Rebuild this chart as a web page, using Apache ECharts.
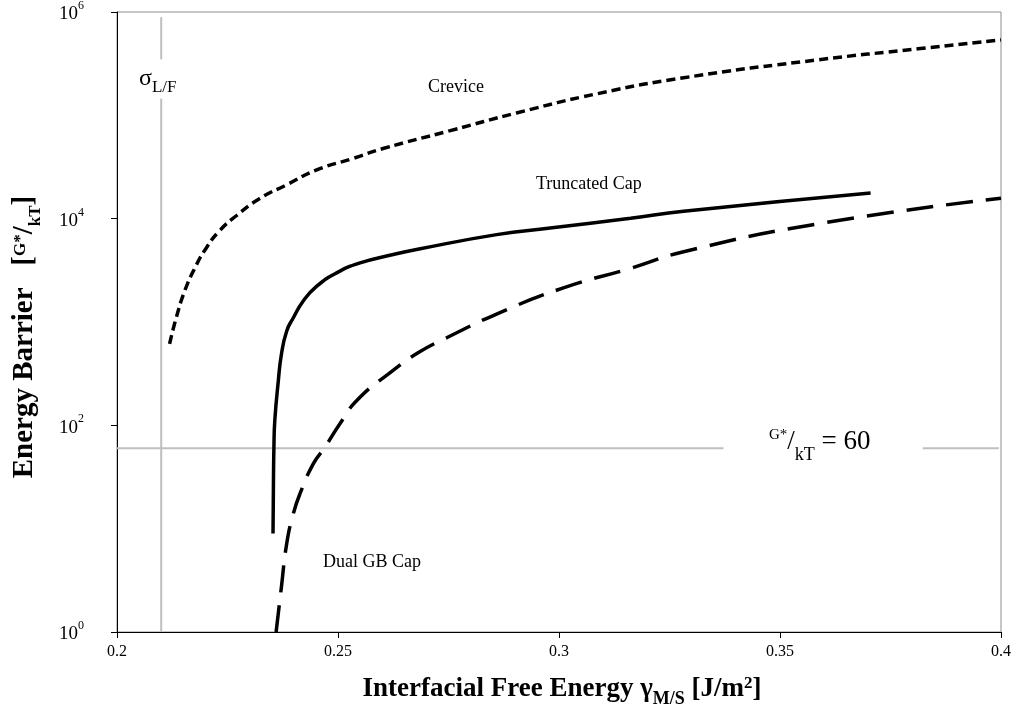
<!DOCTYPE html>
<html>
<head>
<meta charset="utf-8">
<script src="https://cdn.jsdelivr.net/npm/echarts@6/dist/echarts.min.js"></script>
<style>
html,body{margin:0;padding:0;background:#fff;}
#chart{width:1014px;height:706px;}
</style>
</head>
<body>
<div id="chart"></div>
<script>
// ---- data ----
var creviceX = [0.2119, 0.2134, 0.2153, 0.2176, 0.2202, 0.2232, 0.2270, 0.2323, 0.2384, 0.2452, 0.2535, 0.2602, 0.2754, 0.2906, 0.3087, 0.3282, 0.3585, 0.3812, 0.4];
var creviceY = [614, 1100, 1990, 3320, 5210, 7640, 10670, 15700, 21300, 29700, 38400, 47700, 71100, 106000, 162000, 231000, 344000, 440000, 537000];

var truncX = [0.2353, 0.2354, 0.2355, 0.2357, 0.2365, 0.2372, 0.2384, 0.2399, 0.2421, 0.2452, 0.2497, 0.2550, 0.2625, 0.2686, 0.2859, 0.2980, 0.3162, 0.3282, 0.3705];
var truncY = [9.0, 29.3, 61, 111, 270, 488, 819, 1100, 1590, 2220, 2990, 3730, 4500, 5120, 7010, 8120, 10100, 11800, 17700];

var dualX = [0.2360, 0.2372, 0.2384, 0.2399, 0.2414, 0.2444, 0.2470, 0.2504, 0.2542, 0.2618, 0.2682, 0.2747, 0.2860, 0.3010, 0.3162, 0.3282, 0.3585, 0.4];
var dualY = [1, 2.73, 7.2, 14, 21.8, 42.4, 61, 103, 173, 324, 506, 708, 1200, 2140, 3310, 4790, 8910, 15800];

// reference lines
var sigmaX = 0.21;
var sigmaSegY = [[1, 145000], [348000, 890000]];
var barrierY = 60;
var barrierSegX = [[0.2, 0.3372], [0.3823, 0.3995]];

function zip(xs, ys){ return xs.map(function(x,i){ return [x, ys[i]]; }); }

var serif = '"Liberation Serif", "DejaVu Serif", serif';
var chart = echarts.init(document.getElementById('chart'), null, {renderer:'canvas'});

var series = [];
sigmaSegY.forEach(function(seg){
  series.push({type:'line', data:[[sigmaX, seg[0]],[sigmaX, seg[1]]], symbol:'none', silent:true,
    lineStyle:{color:'#bfbfbf', width:2}, z:1});
});
barrierSegX.forEach(function(seg){
  series.push({type:'line', data:[[seg[0], barrierY],[seg[1], barrierY]], symbol:'none', silent:true,
    lineStyle:{color:'#bfbfbf', width:2}, z:1});
});
series.push({name:'Crevice', type:'line', data:zip(creviceX, creviceY), symbol:'none', smooth:0.5,
  lineStyle:{color:'#000', width:3.5, type:[9,5]}, z:3});
series.push({name:'Truncated Cap', type:'line', data:zip(truncX, truncY), symbol:'none', smooth:0.5,
  lineStyle:{color:'#000', width:3.5}, z:3});
series.push({name:'Dual GB Cap', type:'line', data:zip(dualX, dualY), symbol:'none', smooth:0.5,
  lineStyle:{color:'#000', width:3.5, type:[27,13]}, z:3});

var option = {
  animation:false,
  backgroundColor:'#fff',
  grid:{left:117, right:13, top:10, bottom:74, show:true, borderColor:'#8c8c8c', borderWidth:1},
  xAxis:{
    type:'value', min:0.2, max:0.4, interval:0.05,
    axisLine:{show:true, onZero:false, lineStyle:{color:'#000', width:1}},
    axisTick:{show:true, length:6, lineStyle:{color:'#000'}},
    splitLine:{show:false},
    axisLabel:{color:'#000', fontFamily:serif, fontSize:16, margin:12,
      formatter:function(v){ return String(+v.toFixed(2)); }}
  },
  yAxis:{
    type:'log', logBase:100, min:1, max:1e6,
    axisLine:{show:true, lineStyle:{color:'#000', width:1}},
    axisTick:{show:true, length:6, lineStyle:{color:'#000'}},
    splitLine:{show:false},
    axisLabel:{color:'#000', fontFamily:serif, margin:33,
      formatter:function(v){ var e=Math.round(Math.log10(v)); return '{b|10}{s|'+e+'}'; },
      rich:{
        b:{fontFamily:serif, fontSize:19, color:'#000', lineHeight:24, verticalAlign:'bottom'},
        s:{fontFamily:serif, fontSize:12, color:'#000', lineHeight:24, verticalAlign:'top'}
      }
    }
  },
  graphic:[
    {type:'text', left:428, top:78, style:{text:'Crevice', font:'18px '+serif, fill:'#000'}},
    {type:'text', left:536, top:175, style:{text:'Truncated Cap', font:'18px '+serif, fill:'#000'}},
    {type:'text', left:323, top:553, style:{text:'Dual GB Cap', font:'18px '+serif, fill:'#000'}},
    {type:'text', left:139, top:67, style:{
      text:'{a|σ}{b|L/F}',
      rich:{
        a:{fontFamily:serif, fontSize:24, fill:'#000', lineHeight:28, verticalAlign:'bottom'},
        b:{fontFamily:serif, fontSize:17, fill:'#000', lineHeight:28, verticalAlign:'bottom', padding:[0,0,-5,0]}
      }}},
    {type:'text', left:769, top:426, style:{
      text:'{s|G*}{b|/}{k|kT}{b| = 60}',
      rich:{
        s:{fontFamily:serif, fontSize:15, fill:'#000', lineHeight:32, verticalAlign:'top', padding:[2,0,0,0]},
        b:{fontFamily:serif, fontSize:27, fill:'#000', lineHeight:32},
        k:{fontFamily:serif, fontSize:18, fill:'#000', lineHeight:32, verticalAlign:'bottom', padding:[0,0,-6,0]}
      }}},
    {type:'text', x:562, y:689, style:{
      text:'{m|Interfacial Free Energy γ}{sub|M/S}{m| [J/m}{sup|2}{m|]}',
      align:'center', verticalAlign:'middle',
      rich:{
        m:{fontFamily:serif, fontWeight:'bold', fontSize:27, fill:'#000', lineHeight:34},
        sub:{fontFamily:serif, fontWeight:'bold', fontSize:18, fill:'#000', lineHeight:34, verticalAlign:'bottom', padding:[0,0,-2,0]},
        sup:{fontFamily:serif, fontWeight:'bold', fontSize:17, fill:'#000', lineHeight:34, verticalAlign:'top', padding:[3,0,0,0]}
      }}},
    {type:'text', x:25, y:337, rotation:Math.PI/2, style:{
      text:'{m|Energy Barrier   [}{sup|G*}{m|/}{sub|kT}{m|]}',
      align:'center', verticalAlign:'middle',
      rich:{
        m:{fontFamily:serif, fontWeight:'bold', fontSize:29, fill:'#000', lineHeight:32},
        sup:{fontFamily:serif, fontWeight:'bold', fontSize:17, fill:'#000', lineHeight:32, verticalAlign:'top', padding:[3,0,0,0]},
        sub:{fontFamily:serif, fontWeight:'bold', fontSize:17, fill:'#000', lineHeight:32, verticalAlign:'bottom', padding:[0,0,-3,0]}
      }}}
  ],
  series:series
};
chart.setOption(option);
</script>
</body>
</html>
